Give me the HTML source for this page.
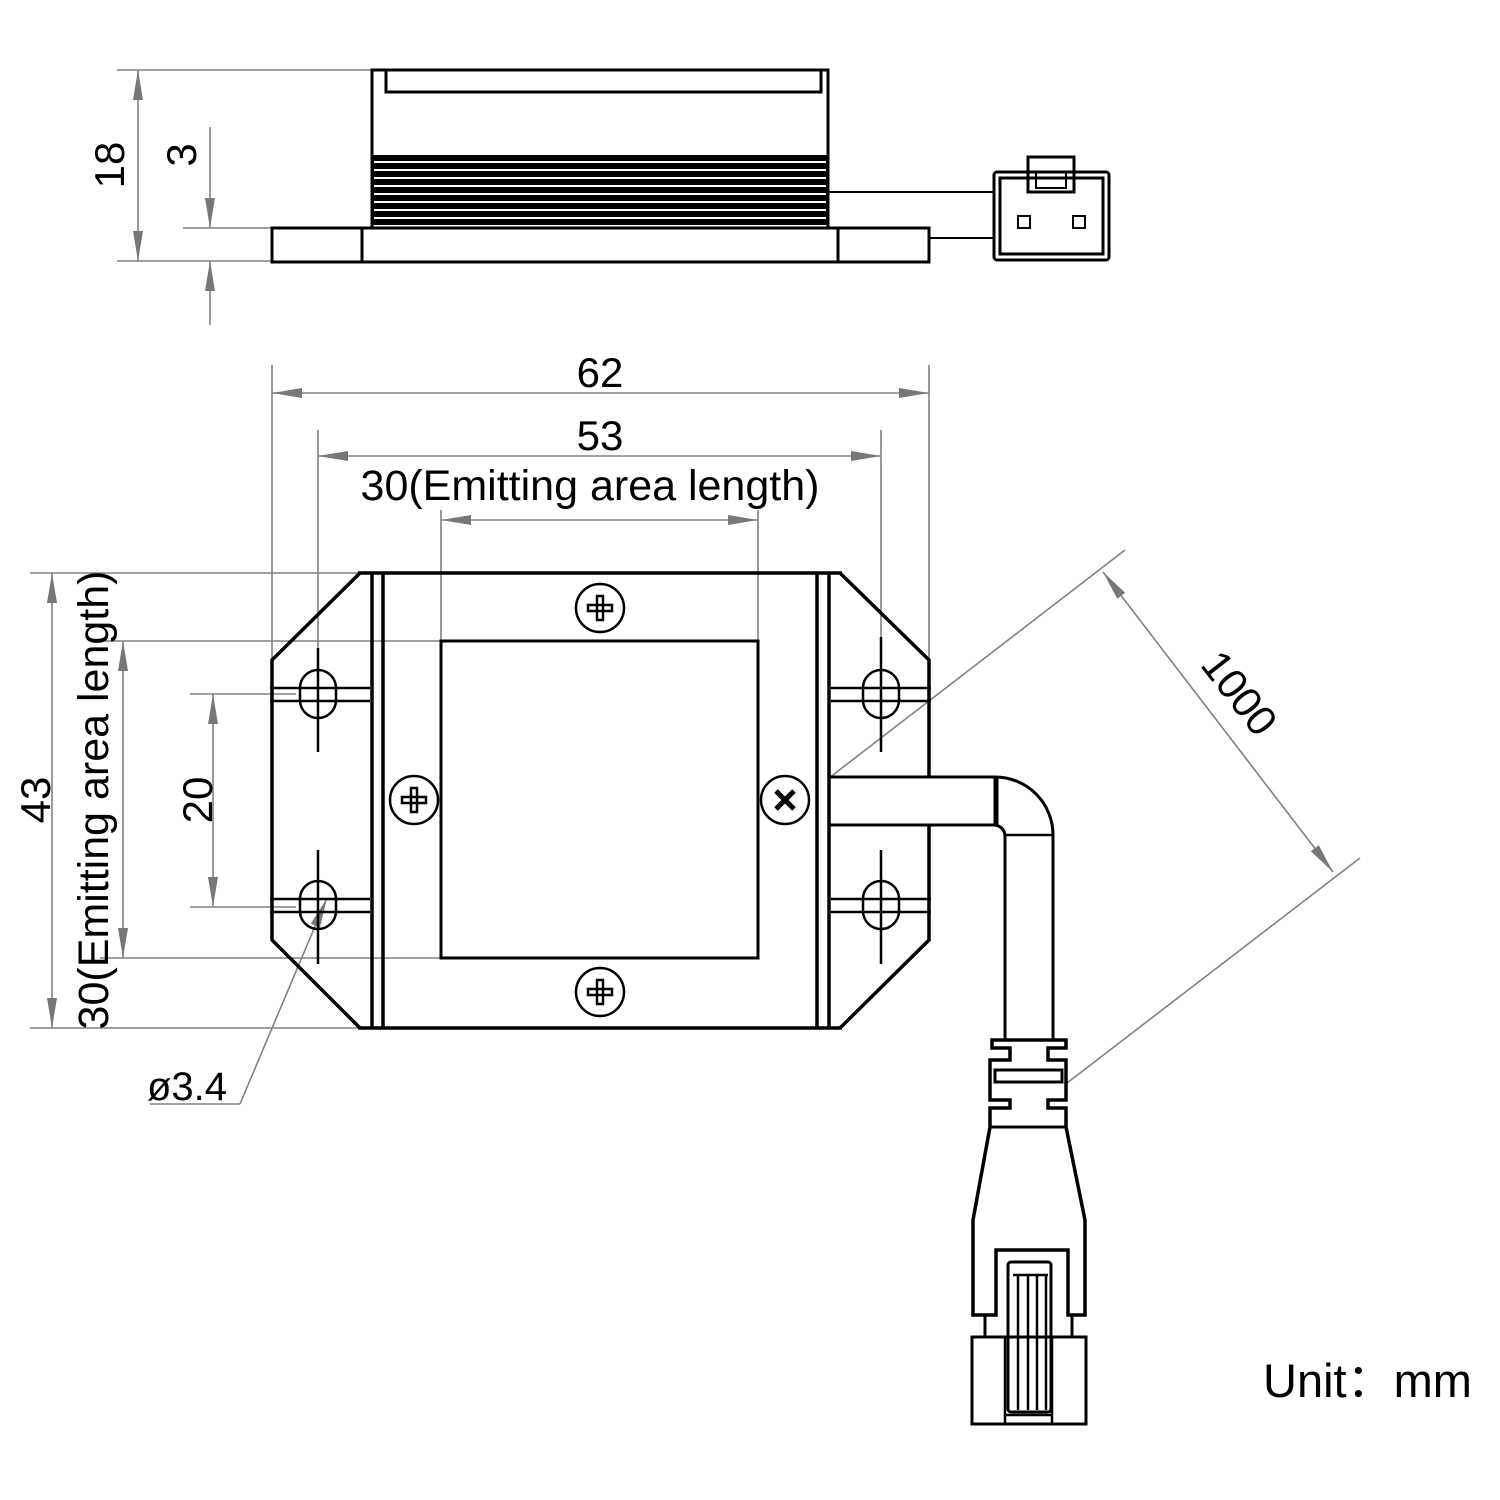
<!DOCTYPE html>
<html><head><meta charset="utf-8"><style>html,body{margin:0;padding:0;background:#fff}svg{display:block}</style></head>
<body>
<svg width="1500" height="1500" viewBox="0 0 1500 1500" xmlns="http://www.w3.org/2000/svg">
<defs>
<marker id="a" viewBox="0 0 30 12" refX="30" refY="6" markerWidth="30" markerHeight="12" markerUnits="userSpaceOnUse" orient="auto-start-reverse"><path d="M0,1 L30,6 L0,11 Z" fill="#777"/></marker>
</defs>
<g stroke="#808080" stroke-width="1.6" fill="none">
<line x1="117" y1="70" x2="372" y2="70"/>
<line x1="117" y1="261" x2="272" y2="261"/>
<line x1="183" y1="228" x2="272" y2="228"/>
<line x1="138" y1="70" x2="138" y2="261" marker-start="url(#a)" marker-end="url(#a)"/>
<line x1="210" y1="127" x2="210" y2="228" marker-end="url(#a)"/>
<line x1="210" y1="325" x2="210" y2="261" marker-end="url(#a)"/>
<line x1="272" y1="365" x2="272" y2="660"/>
<line x1="929" y1="365" x2="929" y2="660"/>
<line x1="272" y1="393" x2="929" y2="393" marker-start="url(#a)" marker-end="url(#a)"/>
<line x1="318" y1="430" x2="318" y2="648"/>
<line x1="881" y1="430" x2="881" y2="648"/>
<line x1="318" y1="456" x2="881" y2="456" marker-start="url(#a)" marker-end="url(#a)"/>
<line x1="441" y1="510" x2="441" y2="640"/>
<line x1="758" y1="510" x2="758" y2="640"/>
<line x1="441" y1="520" x2="758" y2="520" marker-start="url(#a)" marker-end="url(#a)"/>
<line x1="30" y1="573" x2="372" y2="573"/>
<line x1="30" y1="1028" x2="372" y2="1028"/>
<line x1="52" y1="573" x2="52" y2="1028" marker-start="url(#a)" marker-end="url(#a)"/>
<line x1="100" y1="641" x2="441" y2="641"/>
<line x1="100" y1="958" x2="441" y2="958"/>
<line x1="123" y1="641" x2="123" y2="958" marker-start="url(#a)" marker-end="url(#a)"/>
<line x1="190" y1="694" x2="296" y2="694"/>
<line x1="190" y1="907" x2="296" y2="907"/>
<line x1="213" y1="694" x2="213" y2="907" marker-start="url(#a)" marker-end="url(#a)"/>
<line x1="150" y1="1104" x2="240" y2="1104"/>
<line x1="240" y1="1104" x2="327" y2="898" marker-end="url(#a)"/>
<line x1="829" y1="778" x2="1125" y2="550"/>
<line x1="1067" y1="1083" x2="1360" y2="858"/>
<line x1="1103" y1="572" x2="1333" y2="872" marker-start="url(#a)" marker-end="url(#a)"/>
</g>
<g font-family="Liberation Sans, sans-serif" fill="#000" font-size="42">
<text x="600" y="387" text-anchor="middle">62</text>
<text x="600" y="450" text-anchor="middle">53</text>
<text x="590" y="500" text-anchor="middle" font-size="43">30(Emitting area length)</text>
<text transform="translate(124,165) rotate(-90)" text-anchor="middle">18</text>
<text transform="translate(196,155) rotate(-90)" text-anchor="middle">3</text>
<text transform="translate(50,800) rotate(-90)" text-anchor="middle">43</text>
<text transform="translate(108,800) rotate(-90)" text-anchor="middle" font-size="43">30(Emitting area length)</text>
<text transform="translate(212,800) rotate(-90)" text-anchor="middle">20</text>
<text x="147" y="1100" font-size="40">ø3.4</text>
<text transform="translate(1228,702) rotate(52)" text-anchor="middle">1000</text>
<text x="1263" y="1397" font-size="47">Unit：mm</text>
</g>
<g stroke="#000" stroke-width="3" fill="none">
<rect x="372" y="70" width="456" height="158"/>
<rect x="386" y="70" width="435" height="22"/>
<rect x="272" y="228" width="657" height="34"/>
<line x1="362" y1="228" x2="362" y2="262"/>
<line x1="838" y1="228" x2="838" y2="262"/>
<line x1="828" y1="192" x2="995" y2="192" stroke-width="2"/>
<line x1="929" y1="238" x2="995" y2="238" stroke-width="2"/>
<rect x="994" y="172" width="115" height="88" rx="3"/>
<rect x="1000" y="178" width="103" height="76"/>
<rect x="1028" y="157" width="46" height="35"/>
<rect x="1036" y="172" width="30" height="16" stroke-width="2"/>
<rect x="1018" y="216" width="12" height="12" stroke-width="2"/>
<rect x="1073" y="216" width="12" height="12" stroke-width="2"/>
</g>
<rect x="372" y="155" width="456" height="70" fill="#000"/>
<g stroke="#fff" stroke-width="2">
<line x1="374" y1="162" x2="826" y2="162"/><line x1="374" y1="170" x2="826" y2="170"/><line x1="374" y1="178" x2="826" y2="178"/><line x1="374" y1="186" x2="826" y2="186"/><line x1="374" y1="194" x2="826" y2="194"/><line x1="374" y1="202" x2="826" y2="202"/><line x1="374" y1="210" x2="826" y2="210"/><line x1="374" y1="218" x2="826" y2="218"/>
</g>
<g stroke="#000" stroke-width="3.5" fill="none">
<path d="M360,573 L272,660 L272,940 L360,1028"/>
<path d="M840,573 L929,660 L929,777 M929,825 L929,940 L840,1028"/>
<line x1="358" y1="573" x2="842" y2="573"/>
<line x1="358" y1="1028" x2="842" y2="1028"/>
<line x1="372" y1="573" x2="372" y2="1028"/>
<line x1="383" y1="573" x2="383" y2="1028"/>
<line x1="817" y1="573" x2="817" y2="1028"/>
<line x1="829" y1="573" x2="829" y2="1028"/>
<rect x="441" y="641" width="317" height="317" stroke-width="3"/>
<g stroke-width="2.5">
<rect x="300" y="670" width="36" height="48" rx="18"/>
<rect x="300" y="881" width="36" height="48" rx="18"/>
<rect x="863" y="670" width="36" height="48" rx="18"/>
<rect x="863" y="881" width="36" height="48" rx="18"/>
<path d="M270,688 H370 M270,701 H370 M270,899 H370 M270,912 H370 M831,688 H931 M831,701 H931 M831,899 H931 M831,912 H931"/>
<path d="M318,648 V752 M318,850 V964 M881,637 V752 M881,850 V964"/>
<circle cx="600" cy="608" r="24"/>
<circle cx="600" cy="992" r="24"/>
<circle cx="414" cy="800" r="24"/>
<circle cx="785" cy="800" r="24"/>
<path d="M588,605 H612 V611 H588 Z M597,596 H603 V620 H597 Z"/>
<path d="M588,989 H612 V995 H588 Z M597,980 H603 V1004 H597 Z"/>
<path d="M402,797 H426 V803 H402 Z M411,788 H417 V812 H411 Z"/>
<path d="M776,791 L794,809 M794,791 L776,809" stroke-width="5"/>
</g>
<path d="M829,777 H995 A58,58 0 0 1 1053,835 V1040" stroke-width="3"/>
<path d="M829,825 H995 Q1005,827 1005,837 V1040" stroke-width="3"/>
<line x1="996" y1="777" x2="996" y2="825" stroke-width="5"/>
<line x1="1005" y1="835" x2="1053" y2="835" stroke-width="2.5"/>
<path d="M992,1040 H1066 V1048 H1048 V1060 H1066 V1100 H1048 V1108 H1066 V1127 L1085,1220 V1315 H1068 V1250 H996 V1315 H973 V1220 L990,1127 V1108 H1010 V1100 H990 V1060 H1010 V1048 H992 Z" stroke-width="3.5"/>
<rect x="995" y="1070" width="67" height="12" stroke-width="3"/>
<line x1="990" y1="1127" x2="1066" y2="1127" stroke-width="3"/>
<path d="M985,1315 V1337 M1072,1315 V1337" stroke-width="3"/>
<rect x="972" y="1337" width="114" height="87" stroke-width="3"/>
<path d="M1005,1337 V1424 M1052,1337 V1424" stroke-width="2.5"/>
<rect x="1008" y="1262" width="43" height="150" rx="3" stroke-width="3"/>
<path d="M1013,1275 H1048 M1018,1275 V1410 M1028,1275 V1410 M1037,1275 V1410 M1046,1275 V1410 M1005,1415 H1052" stroke-width="2.5"/>
</g>
</svg>
</body></html>
